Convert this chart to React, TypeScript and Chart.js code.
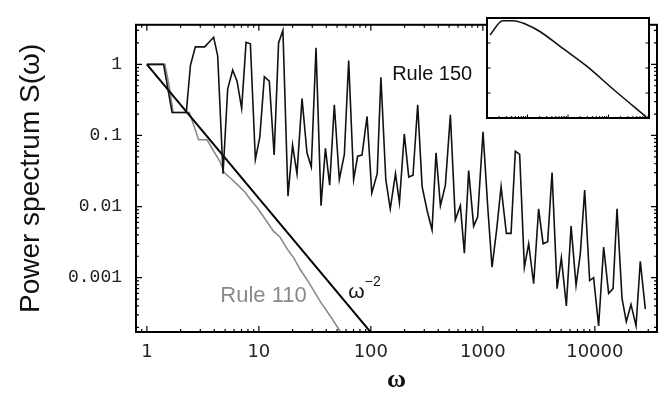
import React, { useEffect, useRef } from "react";
import { Chart, registerables } from "chart.js";

Chart.register(...registerables);

// ---------- data ----------
const RULE150_W = [
  1, 1.41, 1.68, 2.25, 2.45, 2.71, 3.28, 3.95, 4.29, 4.79,
  5.27, 5.84, 6.39, 7.02, 7.69, 8.4, 9.31, 10.2, 11.2, 12.4,
  13.7, 15.0, 16.4, 18.2, 20.0, 21.9, 24.3, 26.9, 29.4, 32.4,
  35.9, 39.3, 42.9, 47.2, 52.3, 58.0, 63.4, 70.2, 76.2, 83.4,
  92.5, 102, 114, 123, 136, 149, 166, 180, 199, 218,
  238, 262, 287, 318, 352, 382, 418, 463, 513, 568,
  630, 684, 747, 828, 899, 1004, 1104, 1208, 1328, 1455,
  1622, 1786, 1950, 2132, 2349, 2566, 2843, 3148, 3451, 3793,
  4150, 4603, 5024, 5569, 6137, 6797, 7425, 8115, 8990, 9750,
  10810, 11990, 13280, 14550, 15780, 17490, 19100, 21040, 23330, 25470,
  28240,
];
const RULE150_S = [
  1, 1, 0.21, 0.21, 0.97, 1.76, 1.76, 2.4, 1.32, 0.029,
  0.45, 0.83, 0.58, 0.24, 2.04, 1.95, 0.046, 0.095, 0.67, 0.58,
  0.053, 2.0, 3.0, 0.014, 0.073, 0.029, 0.33, 0.057, 0.036, 1.71,
  0.0103, 0.066, 0.02, 0.27, 0.024, 0.054, 1.13, 0.024, 0.051, 0.053,
  0.185, 0.0155, 0.029, 0.66, 0.024, 0.0093, 0.029, 0.0114, 0.105, 0.026,
  0.0275, 0.27, 0.019, 0.0088, 0.0047, 0.057, 0.0103, 0.02, 0.195, 0.0065,
  0.0103, 0.0022, 0.032, 0.0053, 0.0072, 0.113, 0.0103, 0.0014, 0.0047, 0.019,
  0.0042, 0.0042, 0.06, 0.054, 0.0014, 0.003, 0.00082, 0.0093, 0.003, 0.0032,
  0.03, 0.0007, 0.0019, 0.0004, 0.0053, 0.00078, 0.0022, 0.017, 0.00091, 0.001,
  0.00021, 0.0027, 0.0006, 0.0007, 0.0093, 0.00051, 0.00024, 0.00042, 0.00021, 0.0017,
  0.00036,
];

const RULE110_W = [
  1, 1.45, 1.58, 1.72, 2.4, 2.9, 3.45, 4.0, 4.5, 4.9,
  5.6, 6.5, 7.5, 8.4, 9.6, 11.3, 13.5, 15.5, 18, 20.5,
  23.4, 28, 35.4, 44, 54,
];
const RULE110_S = [
  1, 1, 0.5, 0.21, 0.21, 0.087, 0.087, 0.058, 0.043, 0.03,
  0.025, 0.02, 0.016, 0.0126, 0.0098, 0.0068, 0.0045, 0.0037, 0.0025, 0.0019,
  0.0013, 0.00085, 0.00046, 0.00028, 0.00017,
];

const POWER_LAW_W = [1, 100];
const POWER_LAW_S = [1, 0.00017];

const INSET_W = [1.19, 2.45, 4.5, 8.8, 20.7, 65, 300, 1374, 8420];
const INSET_S = [0.209, 0.78, 0.78, 0.575, 0.283, 0.0711, 0.0113, 0.00132, 0.000113];

const X_TICKS = [1, 10, 100, 1000, 10000];
const X_TICK_LABELS = ["1", "10", "100", "1000", "10000"];
const Y_TICKS = [0.001, 0.01, 0.1, 1];
const Y_TICK_LABELS = ["0.001", "0.01", "0.1", "1"];

const X_TITLE = "ω";
const Y_TITLE = "Power spectrum S(ω)";
const LABEL_150 = "Rule 150";
const LABEL_110 = "Rule 110";
const LABEL_POWER = "ω";
const LABEL_POWER_EXP = "−2";

// ---------- layout / style ----------
const X_MIN = 0.8;
const X_MAX = 35900;
const Y_MIN = 0.000172;
const Y_MAX = 3.6;

const ANNOT_150 = { w: 155, s: 0.61 };
const ANNOT_110 = { w: 4.53, s: 0.00046 };
const ANNOT_POW = { w: 63, s: 0.00051 };

function toXY(xs: number[], ys: number[]) {
  return xs.map((x, i) => ({ x, y: ys[i] }));
}

function logPositions(min: number, max: number) {
  const out: { v: number; major: boolean }[] = [];
  const e0 = Math.floor(Math.log10(min));
  const e1 = Math.ceil(Math.log10(max));
  for (let e = e0; e <= e1; e++) {
    for (let m = 1; m < 10; m++) {
      const v = m * Math.pow(10, e);
      if (v >= min * 0.9999 && v <= max * 1.0001) out.push({ v, major: m === 1 });
    }
  }
  return out;
}

function drawFrame(chart: any, opt: any) {
  const { ctx, chartArea: a, scales } = chart;
  ctx.save();
  ctx.strokeStyle = "#000";
  ctx.lineWidth = opt.tickWidth;
  ctx.beginPath();
  for (const t of logPositions(scales.x.min, scales.x.max)) {
    if (!t.major && !opt.xMinor) continue;
    const p = scales.x.getPixelForValue(t.v);
    const L = t.major ? opt.major : opt.minor;
    ctx.moveTo(p, a.bottom);
    ctx.lineTo(p, a.bottom - L);
    if (opt.top) {
      ctx.moveTo(p, a.top);
      ctx.lineTo(p, a.top + L);
    }
  }
  for (const t of logPositions(scales.y.min, scales.y.max)) {
    if (!t.major && !opt.yMinor) continue;
    const p = scales.y.getPixelForValue(t.v);
    const L = t.major ? opt.major : opt.minor;
    ctx.moveTo(a.left, p);
    ctx.lineTo(a.left + L, p);
    ctx.moveTo(a.right, p);
    ctx.lineTo(a.right - L, p);
  }
  ctx.stroke();
  ctx.lineWidth = opt.frameWidth;
  ctx.strokeRect(a.left, a.top, a.right - a.left, a.bottom - a.top);
  ctx.restore();
}

const mainPlugin = {
  id: "mainFrame",
  afterDraw(chart: any) {
    drawFrame(chart, { tickWidth: 1.2, major: 6, minor: 3, frameWidth: 2, top: true, xMinor: true, yMinor: true });
    const { ctx, scales } = chart;
    const xs = scales.x;
    const ys = scales.y;
    ctx.save();
    ctx.textAlign = "left";
    ctx.textBaseline = "alphabetic";
    ctx.fillStyle = "#111";
    ctx.font = "20px 'Liberation Sans', Arial, sans-serif";
    ctx.fillText(LABEL_150, xs.getPixelForValue(ANNOT_150.w), ys.getPixelForValue(ANNOT_150.s));
    ctx.fillStyle = "#8a8a8a";
    ctx.font = "22px 'Liberation Sans', Arial, sans-serif";
    ctx.fillText(LABEL_110, xs.getPixelForValue(ANNOT_110.w), ys.getPixelForValue(ANNOT_110.s));
    ctx.fillStyle = "#111";
    ctx.font = "21px 'Liberation Sans', Arial, sans-serif";
    const px = xs.getPixelForValue(ANNOT_POW.w);
    const py = ys.getPixelForValue(ANNOT_POW.s);
    ctx.fillText(LABEL_POWER, px, py);
    const wW = ctx.measureText(LABEL_POWER).width;
    ctx.font = "14px 'Liberation Sans', Arial, sans-serif";
    ctx.fillText(LABEL_POWER_EXP, px + wW, py - 12);
    ctx.restore();
  },
};

const insetPlugin = {
  id: "insetFrame",
  beforeDraw(chart: any) {
    const { ctx, chartArea: a } = chart;
    ctx.save();
    ctx.fillStyle = "#fff";
    ctx.fillRect(a.left, a.top, a.right - a.left, a.bottom - a.top);
    ctx.restore();
  },
  afterDraw(chart: any) {
    drawFrame(chart, { tickWidth: 1, major: 3.5, minor: 2, frameWidth: 2, top: false, xMinor: true, yMinor: false });
  },
};

function lookup(ticks: number[], labels: string[]) {
  return (v: any) => {
    const i = ticks.indexOf(Number(v));
    return i >= 0 ? labels[i] : "";
  };
}

export default function App() {
  const mainRef = useRef<HTMLCanvasElement | null>(null);
  const insetRef = useRef<HTMLCanvasElement | null>(null);

  useEffect(() => {
    const main = new Chart(mainRef.current as HTMLCanvasElement, {
      type: "scatter",
      data: {
        datasets: [
          {
            label: "Rule 150",
            data: toXY(RULE150_W, RULE150_S),
            showLine: true,
            borderColor: "#111",
            borderWidth: 1.6,
            pointRadius: 0,
            tension: 0,
          },
          {
            label: "ω^-2",
            data: toXY(POWER_LAW_W, POWER_LAW_S),
            showLine: true,
            borderColor: "#000",
            borderWidth: 2,
            pointRadius: 0,
          },
          {
            label: "Rule 110",
            data: toXY(RULE110_W, RULE110_S),
            showLine: true,
            borderColor: "#8a8a8a",
            borderWidth: 1.6,
            pointRadius: 0,
          },
        ],
      } as any,
      options: {
        animation: false,
        responsive: false,
        devicePixelRatio: 1,
        layout: { padding: { top: 11, right: 10, left: 0, bottom: 0 } },
        plugins: { legend: { display: false }, tooltip: { enabled: false } },
        scales: {
          x: {
            type: "logarithmic",
            min: X_MIN,
            max: X_MAX,
            grid: { display: false, drawTicks: false },
            border: { display: false },
            afterBuildTicks: (s: any) => {
              s.ticks = X_TICKS.map((v) => ({ value: v }));
            },
            afterFit: (s: any) => {
              s.height = 62;
            },
            ticks: {
              callback: lookup(X_TICKS, X_TICK_LABELS),
              font: { family: "'DejaVu Sans', sans-serif", size: 18 },
              color: "#222",
              padding: 10,
              maxRotation: 0,
              autoSkip: false,
            },
            title: {
              display: true,
              text: X_TITLE,
              font: { family: "'Liberation Serif', serif", size: 26, weight: "bold", lineHeight: 1 },
              color: "#111",
              padding: { top: 0, bottom: 1 },
            },
          },
          y: {
            type: "logarithmic",
            min: Y_MIN,
            max: Y_MAX,
            grid: { display: false, drawTicks: false },
            border: { display: false },
            afterBuildTicks: (s: any) => {
              s.ticks = Y_TICKS.map((v) => ({ value: v }));
            },
            afterFit: (s: any) => {
              s.width = 136;
            },
            ticks: {
              callback: lookup(Y_TICKS, Y_TICK_LABELS),
              font: { family: "'Liberation Mono', monospace", size: 18 },
              color: "#222",
              padding: 14,
              autoSkip: false,
            },
            title: {
              display: true,
              text: Y_TITLE,
              font: { family: "'Liberation Sans', Arial, sans-serif", size: 28, lineHeight: 1 },
              color: "#111",
              padding: { top: 17, bottom: 0 },
            },
          },
        },
      } as any,
      plugins: [mainPlugin],
    });

    const inset = new Chart(insetRef.current as HTMLCanvasElement, {
      type: "scatter",
      data: {
        datasets: [
          {
            label: "inset",
            data: toXY(INSET_W, INSET_S),
            showLine: true,
            borderColor: "#111",
            borderWidth: 1.6,
            pointRadius: 0,
            cubicInterpolationMode: "monotone",
          },
        ],
      } as any,
      options: {
        animation: false,
        responsive: false,
        devicePixelRatio: 1,
        layout: { padding: 2 },
        plugins: { legend: { display: false }, tooltip: { enabled: false } },
        scales: {
          x: { type: "logarithmic", min: 1, max: 10000, display: false },
          y: { type: "logarithmic", min: 0.0001, max: 1, display: false },
        },
      } as any,
      plugins: [insetPlugin],
    });

    return () => {
      main.destroy();
      inset.destroy();
    };
  }, []);

  return (
    <div style={{ position: "fixed", left: 0, top: 0, width: 667, height: 394, background: "#fff" }}>
      <canvas
        ref={mainRef}
        width={667}
        height={394}
        style={{ position: "absolute", left: 0, top: 0, width: 667, height: 394 }}
      />
      <canvas
        ref={insetRef}
        width={166}
        height={104}
        style={{ position: "absolute", left: 485, top: 16, width: 166, height: 104 }}
      />
    </div>
  );
}
